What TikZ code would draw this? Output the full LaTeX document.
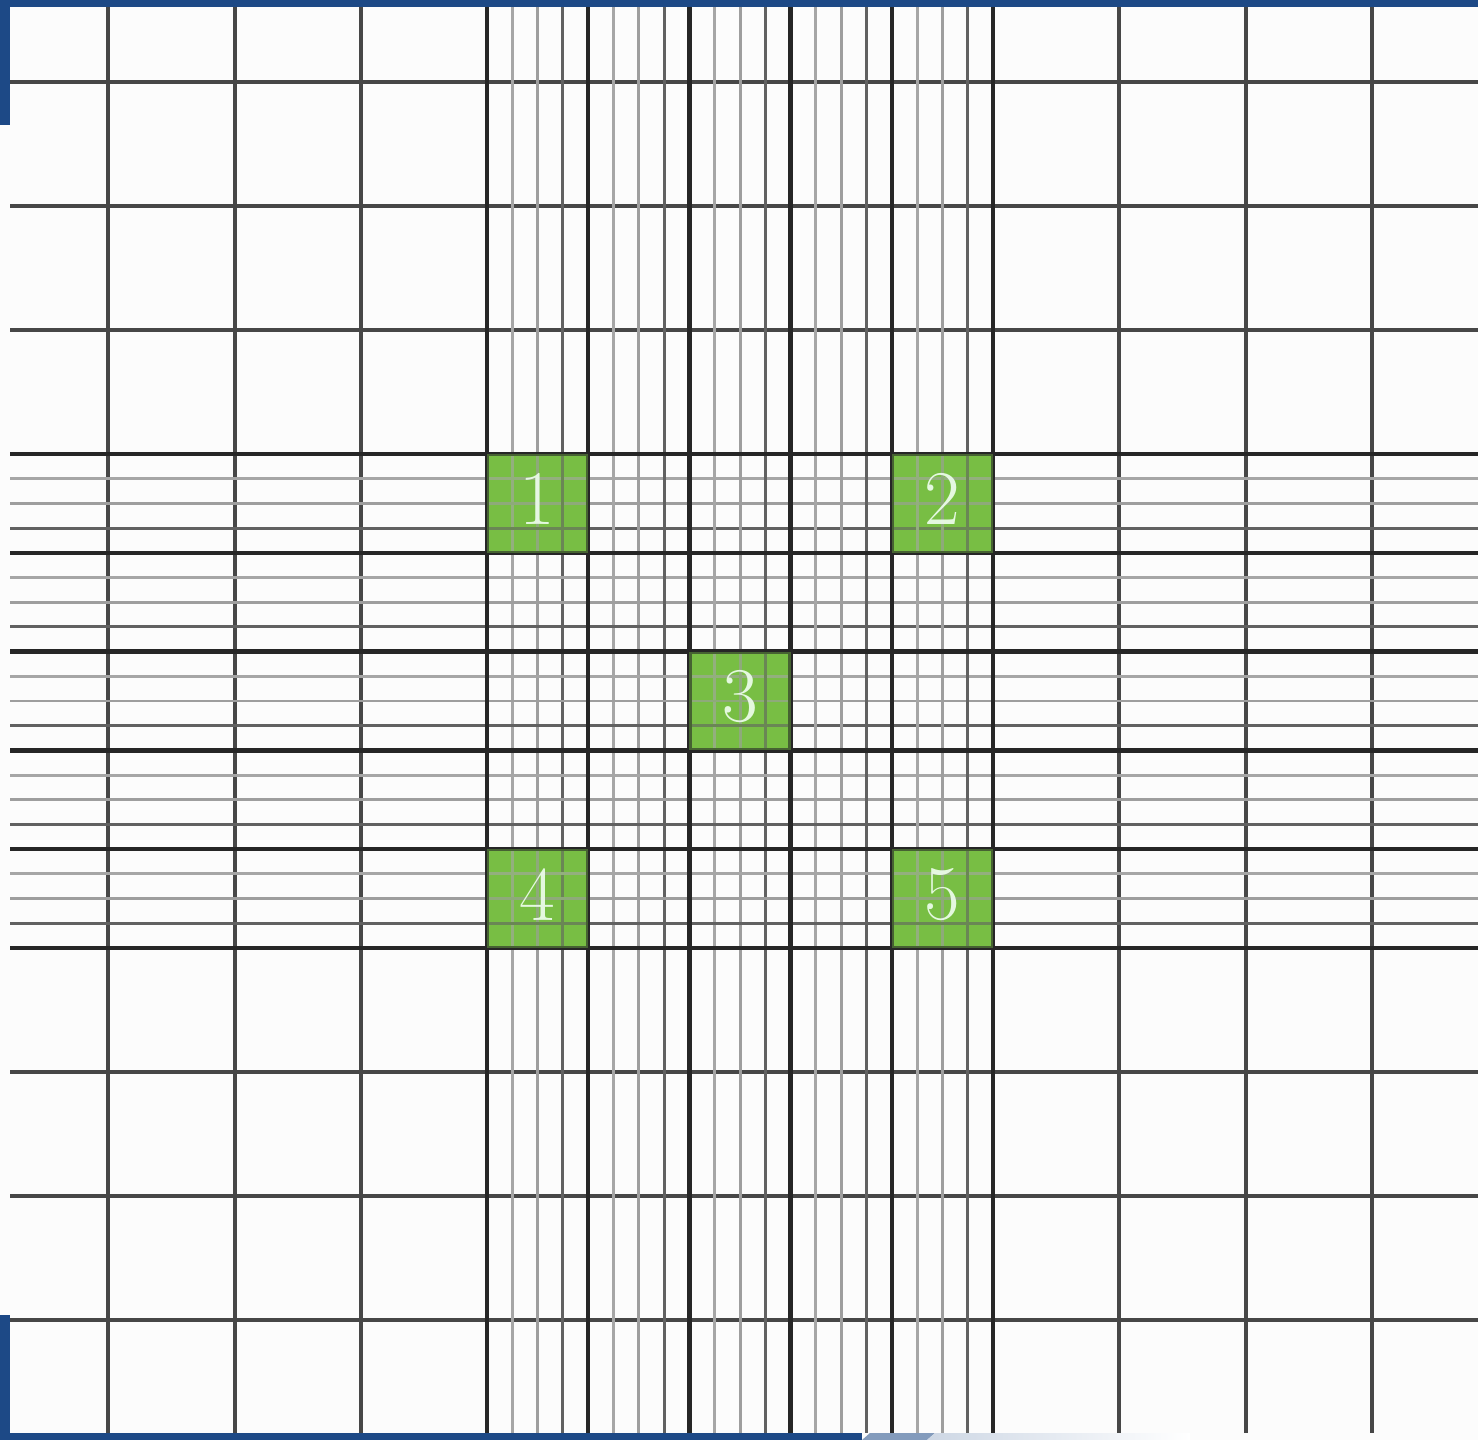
\documentclass[tikz,border=0pt]{standalone}
\usepackage{tikz}
\usetikzlibrary{
positioning,
calc
}

\definecolor{slideblue}{RGB}{29,73,134}
\definecolor{countgreen}{RGB}{120,190,68}

\begin{document}
\begin{tikzpicture}[
x=0.01cm,y=-0.01cm,
major/.style={line width=1.3pt,black!85},
outer/.style={line width=0.9pt,black!72},
minor1/.style={line width=0.85pt,black!35},
minor2/.style={line width=0.85pt,black!38},
minor3/.style={line width=0.85pt,black!62},
count/.style={fill=countgreen,draw=none},
tint/.style={fill=countgreen,fill opacity=0.4,draw=none},
num/.style={text=green!6!white,text opacity=0.9,inner sep=0pt,
font=\fontsize{22}{22}\selectfont}
]

\useasboundingbox (0,0) rectangle (1478,1440);
\fill[white!99!black] (0,0) rectangle (1478,1440);

\foreach \c/\r in {0/0,4/0,2/2,0/4,4/4}
\fill[count] ({487+101.2*\c},{454+98.8*\r}) rectangle ++(101.2,98.8);

\foreach \x in {108,235,361,1119,1246,1372}
\draw[outer] (\x,7) -- (\x,1433);
\foreach \y in {82,206,330,1072,1196,1320}
\draw[outer] (10,\y) -- (1478,\y);

\foreach \i in {0,...,4}
\foreach \k in {1,2,3}{
\draw[minor\k] ({487+101.2*\i+25.3*\k},7) -- ({487+101.2*\i+25.3*\k},1433);
\draw[minor\k] (10,{454+98.8*\i+24.7*\k}) -- (1478,{454+98.8*\i+24.7*\k});
}

\foreach \i in {0,...,5}{
\draw[major] ({487+101.2*\i},7) -- ({487+101.2*\i},1433);
\draw[major] (10,{454+98.8*\i}) -- (1478,{454+98.8*\i});
}

\foreach \c/\r/\n in {0/0/1,4/0/2,2/2/3,0/4/4,4/4/5}{
\fill[tint] ({487+101.2*\c},{454+98.8*\r}) rectangle ++(101.2,98.8);
\node[num] (sq\n) at ({537.6+101.2*\c},{499+98.8*\r}) {\n};
}

\fill[slideblue] (0,0) rectangle (1478,7);
\fill[slideblue] (0,0) rectangle (10,125);
\fill[slideblue] (0,1315) rectangle (10,1440);
\fill[slideblue] (0,1433) rectangle (862,1440);
\fill[slideblue!55] (862,1440) -- (870,1433) -- (935,1433) -- (927,1440) -- cycle;
\shade[left color=slideblue!22,right color=white] (927,1440) -- (935,1433) -- (1190,1433) -- (1190,1440) -- cycle;

\end{tikzpicture}
\end{document}
